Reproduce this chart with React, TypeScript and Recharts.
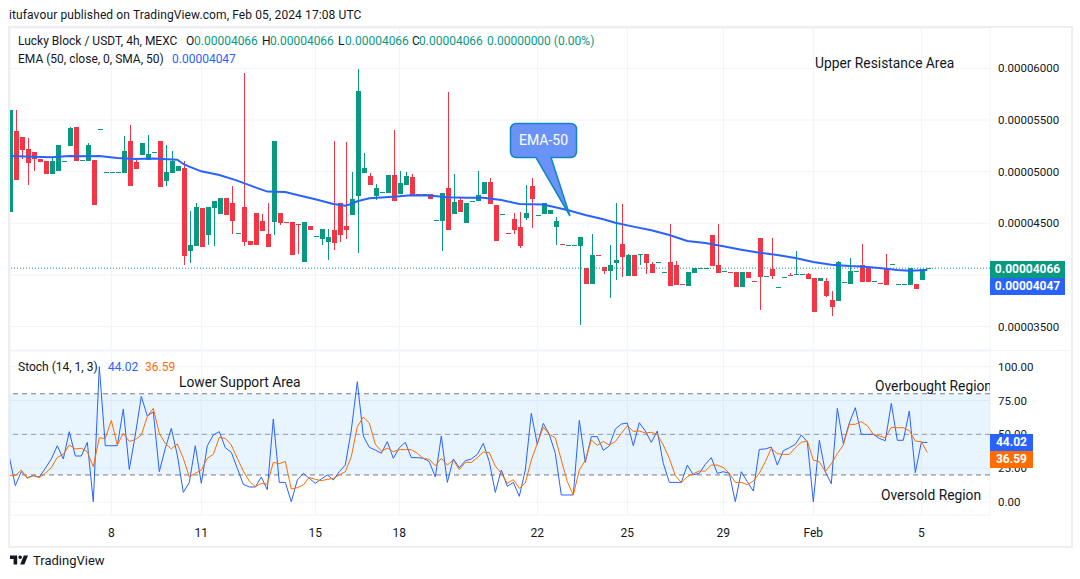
import { Bar, CartesianGrid, ComposedChart, Line, ReferenceArea, ReferenceLine, XAxis, YAxis } from "recharts";

const GREEN = "#089981";
const RED = "#F23645";
const BLUE = "#2962FF";
const ORANGE = "#FF6D00";
const GRID = "#F0F3FA";
const TEXT = "#131722";
const FONT = "Roboto, sans-serif";

// prices are in units of 0.00000001 USDT
const opens = [4613,5394,5332,5219,5190,5123,5103,4977,5007,5100,5248,5432,5110,5103,5113,5410,4994,4994,4994,4987,5297,5094,5161,5113,5187,5297,4910,4987,5007,5036,4232,4281,4648,4387,4648,4590,4745,4697,4403,4658,4329,4600,4523,4397,4513,4600,4511,4513,4491,4126,4474,4374,4348,4319,4436,4697,4474,4581,4765,4987,4958,4765,4800,4794,4968,4784,4871,4948,4782,4781,4784,4529,4523,4842,4590,4726,4503,4713,4716,4784,4900,4677,4587,4404,4542,4465,4552,4861,4577,4590,4590,4465,4298,4287,4287,4284,4068,3913,4191,4077,4039,4116,4300,3990,4194,4200,4203,4106,4123,4026,4126,4097,3911,3894,4019,4065,4065,4387,4097,4035,4027,4029,3884,4029,3940,4358,3987,4058,3881,3977,3998,4006,4006,4010,3971,3942,3942,3758,3748,3929,3913,4035,4097,4074,3939,3920,4065,4106,3910,3910,3903,3913,3952,4066];
const highs = [5597,5597,5332,5323,5190,5123,5103,5129,5258,5100,5432,5432,5110,5278,5113,5410,4994,4994,4994,5345,5452,5119,5278,5355,5187,5297,5258,5200,5055,5103,4619,4697,4648,4658,4716,4745,4745,4861,4403,5952,4329,4600,4590,4697,5297,4600,4511,4513,4491,4513,4474,4374,4445,4445,5297,4697,5287,4997,5994,5181,4987,4881,4800,4968,5403,5007,4997,4977,4782,4781,4784,4529,4794,5771,4977,4755,4697,4713,5007,4900,4939,4677,4587,4404,4600,4610,4871,4939,4577,4697,4629,4561,4298,4287,4287,4368,4068,4397,4191,4077,4290,4697,4687,4203,4194,4200,4203,4126,4123,4026,4494,4135,3911,4029,4068,4065,4065,4387,4494,4035,4027,4029,4029,4029,3940,4358,3987,4358,3881,3977,4019,4232,4006,4019,3971,3971,3971,3845,4135,3929,4165,4035,4300,4074,3939,3920,4203,4106,3910,3910,4068,3913,4058,4066];
const lows = [4613,4919,5123,4871,5007,5094,4977,4977,5007,5100,5248,5103,5110,5103,4677,5410,4994,4994,4994,4987,4861,5026,5161,5113,5187,4852,4861,4987,5007,4097,4116,4281,4271,4290,4281,4590,4581,4397,4403,4281,4290,4290,4426,4271,4387,4484,4509,4194,4203,4126,4436,4374,4290,4145,4242,4319,4348,4581,4213,4987,4871,4726,4800,4794,4716,4784,4871,4774,4780,4781,4736,4529,4232,4436,4590,4610,4503,4713,4716,4784,4687,4329,4587,4402,4397,4261,4532,4455,4577,4590,4590,4290,4296,4287,4287,3516,3913,3913,4189,4010,3777,3952,3981,3990,3990,4097,4010,4019,4123,4026,3894,3903,3909,3894,4019,4065,4065,4087,4019,4035,4025,3884,3884,3971,3938,3661,3987,3961,3881,3977,3996,4006,4006,3961,3642,3942,3787,3603,3748,3929,3913,4035,3932,3932,3939,3918,3903,4106,3910,3910,3903,3865,3952,4066];
const closes = [5597,4919,5210,5084,5123,5094,4977,5103,5258,5100,5419,5103,5110,5258,4677,5410,4994,4994,4994,5200,4861,5026,5278,5171,5187,4852,4997,5103,5055,4184,4290,4658,4271,4658,4716,4745,4581,4523,4403,4319,4290,4290,4426,4271,5297,4503,4509,4194,4489,4513,4436,4374,4445,4368,4310,4387,4436,4736,5781,5036,4871,4842,4800,4968,4716,4890,4958,4774,4780,4781,4736,4529,4794,4436,4706,4610,4697,4713,4774,4900,4687,4329,4587,4402,4436,4281,4600,4736,4577,4697,4629,4523,4296,4287,4287,4368,3913,4194,4189,4039,4097,4145,4174,4194,3990,4200,4116,4019,4123,4026,3894,3903,3909,4029,4068,4065,4065,4087,4019,4035,4025,3884,4029,3971,3938,3981,3987,3990,3881,3977,3996,4006,4006,3961,3642,3971,3797,3690,4126,3929,4039,4035,3932,3932,3939,3918,3903,4106,3910,3910,4068,3865,4058,4066];

const emaCandles = [0,4,7,10,13,15,18,21,24,28,29,30,32,35,38,41,43,46,48,51,54,56,57,58,60,64,67,70,73,76,79,82,85,89,93,96,99,101,104,107,110,113,116,119,122,125,128,131,134,137,140,142,145,148,150,152,153];
const emaValues = [5152,5145,5139,5152,5148,5152,5132,5123,5126,5116,5074,5048,5003,4968,4913,4848,4807,4803,4774,4732,4687,4671,4687,4713,4742,4758,4771,4768,4752,4748,4748,4726,4687,4681,4629,4581,4539,4506,4468,4432,4387,4329,4310,4277,4245,4216,4194,4165,4126,4100,4087,4081,4068,4048,4042,4045,4047];

const stochK = [33.5,12.1,22.4,18,19.5,18.5,24.9,31.8,41.6,31.8,52,34,34,44.1,0.2,100,41.6,41.6,41.6,68.7,24.1,49.5,78.1,63.5,66.7,22.4,39.7,54.4,34.7,7.1,14.5,41.6,13.8,41.6,49.5,52,40.1,36.7,24.9,13.1,11.1,11.1,18.5,9.1,61.3,14.5,14.5,0.2,16.3,21.2,17.5,13.8,17,20,16.3,22.4,27.3,53.2,88.9,48.8,40.4,38.4,36,44.6,32.3,40.1,44.1,32.8,32.8,32.3,29.8,18.5,48.8,14.5,31.8,25.4,30.5,31.8,35.2,43.3,29.8,7.1,23.6,11.6,14.5,4.2,23.6,65.5,42.6,58.1,50,36,5.2,5.2,5.2,60.3,29.3,48.3,48.3,38.2,41.4,53.9,57.6,58.4,41.6,58.6,52.5,44.1,52.5,28.6,14.5,14.5,14.5,27.3,20,21.2,27.8,32.8,21.2,22.4,21.2,0.2,22.4,15,8.1,38.9,39.2,40.6,27.3,37.9,40.1,42.6,49.5,44.6,0.2,45.6,22.4,13.5,69.2,43.1,58.4,69.7,50,50,50,47,45.3,72.9,45.6,45.6,67.2,21.7,44.1,44.02];
const stochD = [19.5,19.5,23.6,17.5,19.5,18,21.2,25.4,33,35.2,42.1,39.2,39.7,37.2,26.1,47.5,47,60.3,42.1,50.7,44.8,46.1,49.5,63.1,69.2,50.7,43.3,39.2,42.9,32.3,18.5,21.2,23.6,32.3,35.2,47.8,47,42.1,32.3,22.9,15.5,11.3,13.8,13.1,29.3,28.3,30,9.6,10.6,12.6,18.2,16.7,15.8,16.7,17.5,20,22.4,33.5,55.7,62.8,58.4,42.6,37.7,39.7,37.2,38.7,38.7,38.7,36,32.3,31.5,26.8,32.3,27.3,31,23.9,29.3,29.3,32.8,36.9,36.5,26.6,21.2,13.8,16.5,10.1,14,31,43.3,55.4,50,47.5,31,15,5.2,23.6,30.8,45.8,41.9,44.8,42.1,44.6,50.7,56.4,52.2,52.5,51,51.5,50,42.1,32.3,19.5,14.5,18.7,20.9,22.9,22.9,27.3,27.3,25.4,21.2,14.5,14.5,12.8,15.5,21.2,29.8,39.7,35.7,35.2,35.2,40.1,44.1,45.1,31,29.8,22.4,28.3,35.7,42.1,57.4,57.4,59.4,56.4,50,48.8,47.5,55.2,54.9,54.9,52.7,45.1,44.6,36.59];

const dateTicks = [17, 32, 51, 65, 88, 103, 119, 134, 152];
const dateLabels = ["8", "11", "15", "18", "22", "25", "29", "Feb", "5"];
const priceTicks = [3500, 4000, 4500, 5000, 5500, 6000];
const stochTicks = [0, 25, 50, 75, 100];

const candles = opens.map((open, i) => ({
  i,
  open,
  high: highs[i],
  low: lows[i],
  close: closes[i],
  ema: emaCandles.includes(i) ? emaValues[emaCandles.indexOf(i)] : null,
}));
const stochData = stochK.map((k, i) => ({ i, k, d: stochD[i] }));

const xDomain = [0.117, 163.45];

function Candle(props: any) {
  const { x, y, width, height, payload } = props;
  const { open, high, low, close } = payload;
  const color = close >= open ? GREEN : RED;
  const k = high > low ? height / (high - low) : 0;
  const mid = Math.round(x + width / 2);
  const top = y + (high - Math.max(open, close)) * k;
  const bodyH = Math.max(1, Math.abs(open - close) * k);
  return (
    <g shapeRendering="crispEdges">
      <rect x={mid - 0.5} y={y} width={1} height={Math.max(height, 1)} fill={color} />
      <rect x={mid - 2.5} y={Math.round(top)} width={5} height={Math.round(bodyH) || 1} fill={color} />
    </g>
  );
}

const abs = (left: number, top: number, extra: any = {}) => ({
  position: "absolute" as const,
  left,
  top,
  whiteSpace: "nowrap" as const,
  lineHeight: "16px",
  ...extra,
});

function Label({ x, y, color = TEXT, size = 12, children, extra }: any) {
  return <div style={abs(x, y - 8, { color, fontSize: size, ...extra })}>{children}</div>;
}

function Badge({ x, y, w, h, bg, children }: any) {
  return (
    <div style={abs(x, y, { width: w, height: h, background: bg, color: "#fff", fontSize: 12, fontWeight: 700, lineHeight: `${h}px`, textAlign: "center" })}>
      {children}
    </div>
  );
}

export default function App() {
  return (
    <div style={{ position: "absolute", left: 0, top: 0, width: 1080, height: 579, background: "#fff", fontFamily: FONT, overflow: "hidden" }}>
      <Label x={9} y={15} extra={{ letterSpacing: 0.11 }}>itufavour published on TradingView.com, Feb 05, 2024 17:08 UTC</Label>

      <div style={{ position: "absolute", left: 0, top: 0 }}>
        <ComposedChart width={1080} height={351} data={candles} margin={{ top: 28, right: 0, bottom: 1, left: 10 }}>
          <CartesianGrid stroke={GRID} />
          <XAxis dataKey="i" type="number" domain={xDomain} allowDataOverflow ticks={dateTicks} hide />
          <YAxis
            orientation="right"
            width={90}
            domain={[3274, 6390]}
            allowDataOverflow
            ticks={priceTicks}
            axisLine={false}
            tickLine={false}
            tickMargin={2}
            tick={{ fontSize: 11.5, fill: TEXT, fontFamily: FONT }}
            tickFormatter={(v: number) => (v / 1e8).toFixed(8)}
          />
          <ReferenceLine y={4066} stroke={GREEN} strokeDasharray="1 2" />
          <Bar dataKey={(d: any) => [d.low, d.high]} barSize={5} shape={<Candle />} isAnimationActive={false} />
          <Line dataKey="ema" stroke={BLUE} strokeWidth={2} dot={false} connectNulls isAnimationActive={false} />
        </ComposedChart>
      </div>

      <div style={{ position: "absolute", left: 0, top: 351 }}>
        <ComposedChart width={1080} height={194} data={stochData} margin={{ top: 0, right: 0, bottom: 0, left: 10 }}>
          <CartesianGrid stroke={GRID} />
          <XAxis
            dataKey="i"
            type="number"
            domain={xDomain}
            allowDataOverflow
            ticks={dateTicks}
            height={30}
            axisLine={false}
            tickLine={false}
            tickMargin={7}
            interval={0}
            tick={{ fontSize: 12, fill: TEXT, fontFamily: FONT }}
            tickFormatter={(v: number) => dateLabels[dateTicks.indexOf(v)]}
          />
          <YAxis
            orientation="right"
            width={90}
            domain={[-9.6, 111.6]}
            allowDataOverflow
            ticks={stochTicks}
            interval={0}
            axisLine={false}
            tickLine={false}
            tickMargin={2}
            tick={{ fontSize: 11.5, fill: TEXT, fontFamily: FONT }}
            tickFormatter={(v: number) => v.toFixed(2)}
          />
          <ReferenceArea y1={20} y2={80} fill="#2196F3" fillOpacity={0.1} stroke="none" />
          <ReferenceLine y={80} stroke="#787B86" strokeDasharray="5 4" />
          <ReferenceLine y={50} stroke="#787B86" strokeOpacity={0.7} strokeDasharray="5 4" />
          <ReferenceLine y={20} stroke="#787B86" strokeDasharray="5 4" />
          <Line dataKey="k" stroke={BLUE} strokeWidth={1} dot={false} isAnimationActive={false} />
          <Line dataKey="d" stroke={ORANGE} strokeWidth={1} dot={false} isAnimationActive={false} />
        </ComposedChart>
      </div>

      {/* frame and pane divider */}
      <div style={{ position: "absolute", left: 8, top: 26, width: 1061, height: 518, border: "2px solid #EDEEF2", pointerEvents: "none" }} />
      <div style={{ position: "absolute", left: 10, top: 350, width: 1060, height: 1, background: "#F0F3FA" }} />

      {/* legends */}
      <Label x={18} y={41}>Lucky Block / USDT, 4h, MEXC</Label>
      <Label x={186} y={41}>O</Label>
      <Label x={194} y={41} color={GREEN}>0.00004066</Label>
      <Label x={262} y={41}>H</Label>
      <Label x={270} y={41} color={GREEN}>0.00004066</Label>
      <Label x={338} y={41}>L</Label>
      <Label x={345} y={41} color={GREEN}>0.00004066</Label>
      <Label x={412} y={41}>C</Label>
      <Label x={419} y={41} color={GREEN}>0.00004066</Label>
      <Label x={487} y={41} color={GREEN}>0.00000000 (0.00%)</Label>
      <Label x={18} y={59}>EMA (50, close, 0, SMA, 50)</Label>
      <Label x={172} y={59} color={BLUE}>0.00004047</Label>
      <Label x={18} y={367}>Stoch (14, 1, 3)</Label>
      <Label x={108} y={367} color={BLUE}>44.02</Label>
      <Label x={145} y={367} color={ORANGE}>36.59</Label>

      {/* drawn annotations */}
      <Label x={815} y={63} size={13.8}>Upper Resistance Area</Label>
      <Label x={179} y={382} size={13.8}>Lower Support Area</Label>
      <Label x={875} y={386} size={13.8} extra={{ width: 115, overflow: "hidden" }}>Overbought Region</Label>
      <Label x={881} y={495} size={13.8}>Oversold Region</Label>

      <svg width={1080} height={579} style={{ position: "absolute", left: 0, top: 0, pointerEvents: "none" }}>
        <path
          d="M516 123.5H571a5.5 5.5 0 0 1 5.5 5.5V152a5.5 5.5 0 0 1-5.5 5.5H551L570 216L536 157.5H516a5.5 5.5 0 0 1-5.5-5.5V129a5.5 5.5 0 0 1 5.5-5.5Z"
          fill="#6B93F7"
          stroke="#0E87C2"
          strokeWidth={1.5}
        />
        <text x={543.5} y={145} textAnchor="middle" fontSize={14} fill="#fff" fontFamily={FONT}>EMA-50</text>
        <g transform="translate(10 555.5) scale(0.6)" fill={TEXT}>
          <path d="M14 6H2v6h6v9h6V6Zm12 15h-7l6-15h7l-6 15Zm-7-9a3 3 0 1 0 0-6 3 3 0 0 0 0 6Z" transform="translate(-2 -6)" />
        </g>
      </svg>
      <Label x={33} y={561} size={13}>TradingView</Label>

      <Badge x={990} y={261} w={75} h={17} bg={GREEN}>0.00004066</Badge>
      <Badge x={990} y={278} w={75} h={17} bg={BLUE}>0.00004047</Badge>
      <Badge x={990} y={434} w={43} h={17} bg={BLUE}>44.02</Badge>
      <Badge x={990} y={451} w={43} h={17} bg={ORANGE}>36.59</Badge>
    </div>
  );
}
